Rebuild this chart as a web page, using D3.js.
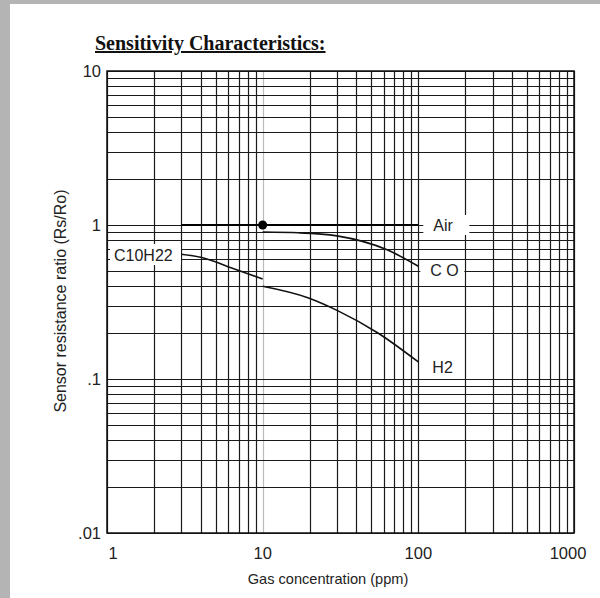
<!DOCTYPE html>
<html>
<head>
<meta charset="utf-8">
<script src="https://cdn.jsdelivr.net/npm/d3@7"></script>
<style>
  body { margin: 0; background: #fff; }
  svg { display: block; }
</style>
</head>
<body>
<svg width="600" height="598"></svg>
<script>
// curves (ppm, Rs/Ro)
const airLine = [[3, 1], [100, 1]]
const airDot = [10, 1]
const coCurve = [[10, 0.9], [17, 0.89], [30, 0.85], [63, 0.69], [100, 0.54]]
const c10h22Curve = [[3, 0.645], [4, 0.617], [6.8, 0.512], [10, 0.446]]
const h2Curve = [[10, 0.4], [19.5, 0.337], [30.5, 0.277], [55, 0.199], [100, 0.129]]

const xTickValues = [1, 10, 100, 1000]
const xTickLabels = ["1", "10", "100", "1000"]
const yTickValues = [0.01, 0.1, 1, 10]
const yTickLabels = [".01", ".1", "1", "10"]

const curveLabels = [
  {text: "Air", at: [100, 1], dx: 15, dy: 0, w: 46},
  {text: "C O", at: [100, 0.54], dx: 12, dy: 4, w: 44},
  {text: "H2", at: [100, 0.129], dx: 14, dy: 5, w: 36}
]

const font = "Liberation Sans, Arial, sans-serif"
const svg = d3.select("svg")

// grey page edges
svg.append("rect").attr("x", 0).attr("y", 0).attr("width", 600).attr("height", 4).attr("fill", "#b4b4b4")
svg.append("rect").attr("x", 0).attr("y", 0).attr("width", 10).attr("height", 598).attr("fill", "#b4b4b4")

const x = d3.scaleLog().domain([1, 1000]).range([107, 574])
const y = d3.scaleLog().domain([0.01, 10]).range([533, 71])

svg.append("text")
  .attr("x", 95).attr("y", 50)
  .attr("font-family", "Liberation Serif, serif")
  .attr("font-weight", "bold")
  .attr("font-size", 20)
  .attr("text-decoration", "underline")
  .attr("fill", "#111")
  .text("Sensitivity Characteristics:")

const grid = svg.append("g")

grid.selectAll("line.v")
  .data(x.ticks())
  .join("line")
  .attr("class", "v")
  .attr("x1", d => Math.round(x(d)) + 0.5)
  .attr("x2", d => Math.round(x(d)) + 0.5)
  .attr("y1", y(10)).attr("y2", y(0.01))
  .attr("stroke", d => d === 10 ? "#bbb" : "#1a1a1a")
  .attr("stroke-width", 1.2)

grid.selectAll("line.h")
  .data(y.ticks())
  .join("line")
  .attr("class", "h")
  .attr("y1", d => Math.round(y(d)) + 0.5)
  .attr("y2", d => Math.round(y(d)) + 0.5)
  .attr("x1", x(1)).attr("x2", x(1000))
  .attr("stroke", "#1a1a1a")
  .attr("stroke-width", 1.2)

// frame
svg.append("rect")
  .attr("x", x(1)).attr("y", y(10))
  .attr("width", x(1000) - x(1)).attr("height", y(0.01) - y(10))
  .attr("fill", "none").attr("stroke", "#111").attr("stroke-width", 1.5)

const line = d3.line().x(d => x(d[0])).y(d => y(d[1]))

svg.append("path").attr("d", line(airLine))
  .attr("fill", "none").attr("stroke", "#000").attr("stroke-width", 2.2)

;[coCurve, c10h22Curve, h2Curve].forEach(c => {
  svg.append("path").attr("d", line.curve(d3.curveMonotoneX)(c))
    .attr("fill", "none").attr("stroke", "#111").attr("stroke-width", 1.6)
})

svg.append("circle")
  .attr("cx", x(airDot[0])).attr("cy", y(airDot[1]))
  .attr("r", 4.5).attr("fill", "#000")

// curve labels on white patches
curveLabels.forEach(l => {
  const lx = x(l.at[0]) + l.dx
  const ly = y(l.at[1]) + l.dy
  svg.append("rect")
    .attr("x", lx - 10).attr("y", ly - 10)
    .attr("width", l.w).attr("height", 20)
    .attr("fill", "#fff")
  svg.append("text")
    .attr("x", lx).attr("y", ly + 6)
    .attr("font-family", font)
    .attr("font-size", 16)
    .attr("fill", "#222")
    .text(l.text)
})

svg.append("rect")
  .attr("x", 110).attr("y", 244).attr("width", 71).attr("height", 21).attr("fill", "#fff")
svg.append("text")
  .attr("x", 114).attr("y", 261)
  .attr("font-family", font)
  .attr("font-size", 16)
  .attr("fill", "#222")
  .text("C10H22")

// tick labels
svg.append("g").selectAll("text")
  .data(xTickValues)
  .join("text")
  .attr("x", d => x(d) + (d === 1 ? 6 : d === 1000 ? -6 : 0))
  .attr("y", 559)
  .attr("text-anchor", "middle")
  .attr("font-family", font)
  .attr("font-size", 16.5)
  .attr("fill", "#222")
  .text((d, i) => xTickLabels[i])

svg.append("g").selectAll("text")
  .data(yTickValues)
  .join("text")
  .attr("x", 101)
  .attr("y", d => y(d) + 6)
  .attr("text-anchor", "end")
  .attr("font-family", font)
  .attr("font-size", 16.5)
  .attr("fill", "#222")
  .text((d, i) => yTickLabels[i])

svg.append("text")
  .attr("x", 328).attr("y", 584)
  .attr("text-anchor", "middle")
  .attr("font-family", font)
  .attr("font-size", 14.6)
  .attr("fill", "#222")
  .text("Gas concentration (ppm)")

svg.append("text")
  .attr("transform", "translate(66,301) rotate(-90)")
  .attr("text-anchor", "middle")
  .attr("font-family", font)
  .attr("font-size", 16)
  .attr("fill", "#222")
  .text("Sensor resistance ratio (Rs/Ro)")
</script>
</body>
</html>
